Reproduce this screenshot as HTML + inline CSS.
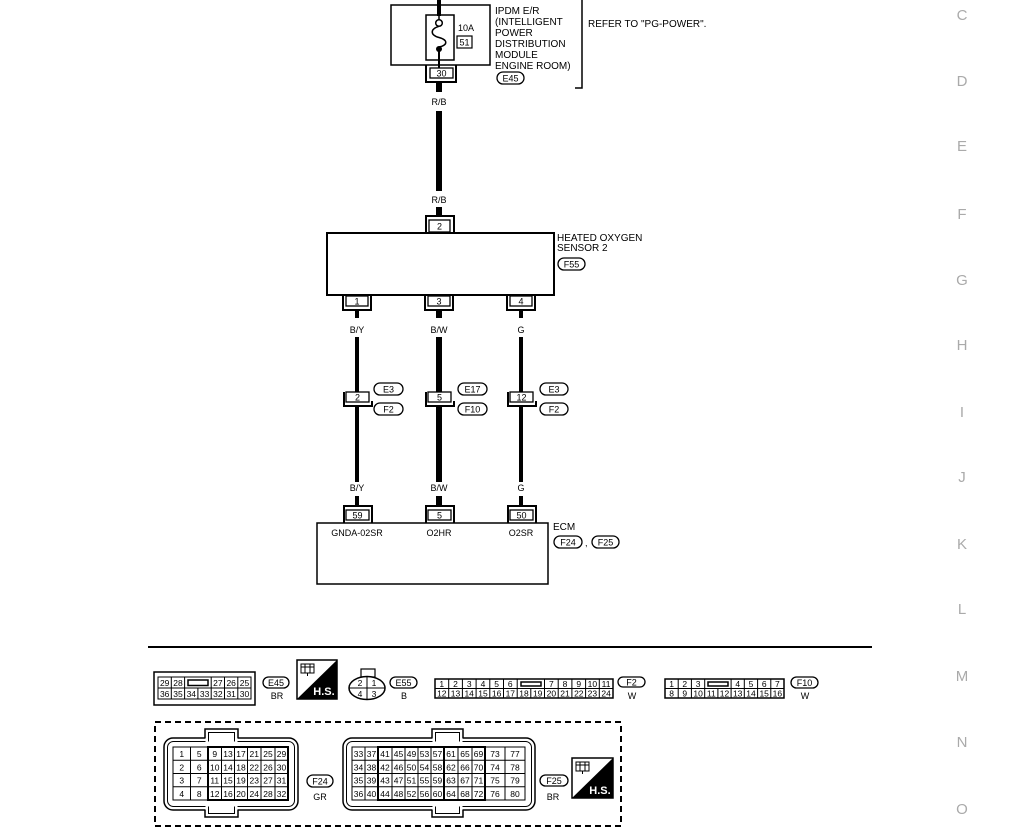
<!DOCTYPE html>
<html><head><meta charset="utf-8"><style>
html,body{margin:0;padding:0;background:#fff;}
svg{display:block;}
text{font-family:"Liberation Sans",sans-serif;}
</style></head><body>
<svg width="1020" height="840" viewBox="0 0 1020 840" xmlns="http://www.w3.org/2000/svg">
<rect width="1020" height="840" fill="#fff"/>
<!-- Right side letters -->
<g fill="#aaa" font-size="15" text-anchor="middle">
<text x="962" y="20">C</text><text x="962" y="86">D</text><text x="962" y="151">E</text>
<text x="962" y="219">F</text><text x="962" y="285">G</text><text x="962" y="350">H</text>
<text x="962" y="417">I</text><text x="962" y="482">J</text><text x="962" y="549">K</text>
<text x="962" y="614">L</text><text x="962" y="681">M</text><text x="962" y="747">N</text>
<text x="962" y="814">O</text>
</g>

<!-- IPDM -->
<g fill="none" stroke="#000">
<rect x="391" y="5" width="99" height="60" stroke-width="1.5"/>
<rect x="426" y="15" width="28" height="45" stroke-width="1.5"/>
</g>
<rect x="437" y="0" width="4" height="16" fill="#000"/>
<line x1="439" y1="15" x2="439" y2="20" stroke="#000" stroke-width="1.5"/>
<circle cx="439" cy="23" r="3.3" fill="#fff" stroke="#000" stroke-width="1.5"/>
<path d="M439,26.3 C430,29 430,35 439,37.5 C448,40 448,45 439,47" fill="none" stroke="#000" stroke-width="1.5"/>
<circle cx="439" cy="49" r="3" fill="#000"/>
<line x1="439" y1="49" x2="439" y2="68" stroke="#000" stroke-width="2"/>
<text x="458" y="31" font-size="9">10A</text>
<rect x="457" y="36" width="15" height="12" fill="none" stroke="#000" stroke-width="1.2"/>
<text x="464.5" y="45.5" font-size="9" text-anchor="middle">51</text>
<rect x="430" y="68" width="23" height="10" fill="#fff" stroke="#000" stroke-width="1.3"/>
<text x="441.5" y="76.5" font-size="9" text-anchor="middle">30</text>
<path d="M426,65 V82 H456 V65" fill="none" stroke="#000" stroke-width="2"/>
<rect x="436" y="82" width="6" height="10" fill="#000"/>
<g font-size="10">
<text x="495" y="14">IPDM E/R</text>
<text x="495" y="25">(INTELLIGENT</text>
<text x="495" y="36">POWER</text>
<text x="495" y="47">DISTRIBUTION</text>
<text x="495" y="58">MODULE</text>
<text x="495" y="69">ENGINE ROOM)</text>
<text x="588" y="27">REFER TO "PG-POWER".</text>
</g>
<rect x="497" y="72" width="27" height="12" rx="6" fill="none" stroke="#000" stroke-width="1.3"/>
<text x="510.5" y="81.5" font-size="9" text-anchor="middle">E45</text>
<path d="M582,0 V88 H575" fill="none" stroke="#000" stroke-width="1.5"/>

<!-- R/B wire -->
<text x="439" y="105" font-size="9" text-anchor="middle">R/B</text>
<rect x="436" y="111" width="6" height="80" fill="#000"/>
<text x="439" y="203" font-size="9" text-anchor="middle">R/B</text>
<rect x="436" y="207" width="6" height="9" fill="#000"/>
<path d="M426,233 V216 H454 V233" fill="none" stroke="#000" stroke-width="2"/>
<rect x="429" y="220" width="21" height="12" fill="#fff" stroke="#000" stroke-width="1.3"/>
<text x="439.5" y="229.5" font-size="9" text-anchor="middle">2</text>

<!-- Sensor box -->
<rect x="327" y="233" width="227" height="62" fill="none" stroke="#000" stroke-width="2"/>
<text x="557" y="241" font-size="10">HEATED OXYGEN</text>
<text x="557" y="251" font-size="10">SENSOR 2</text>
<rect x="558" y="258" width="27" height="12" rx="6" fill="none" stroke="#000" stroke-width="1.3"/>
<text x="571.5" y="267.5" font-size="9" text-anchor="middle">F55</text>

<!-- Sensor bottom connectors -->
<g fill="none" stroke="#000" stroke-width="2">
<path d="M343,295 V310 H371 V295"/>
<path d="M425,295 V310 H453 V295"/>
<path d="M507,295 V310 H535 V295"/>
</g>
<g fill="#fff" stroke="#000" stroke-width="1.3">
<rect x="346" y="296" width="22" height="10"/>
<rect x="428" y="296" width="22" height="10"/>
<rect x="510" y="296" width="22" height="10"/>
</g>
<g font-size="9" text-anchor="middle">
<text x="357" y="304.5">1</text><text x="439" y="304.5">3</text><text x="521" y="304.5">4</text>
</g>
<rect x="355" y="310" width="4" height="8" fill="#000"/>
<rect x="436" y="310" width="6" height="8" fill="#000"/>
<rect x="519" y="310" width="4" height="8" fill="#000"/>
<g font-size="9" text-anchor="middle">
<text x="357" y="333">B/Y</text><text x="439" y="333">B/W</text><text x="521" y="333">G</text>
</g>

<!-- wires middle -->
<rect x="355" y="337" width="4" height="55" fill="#000"/>
<rect x="436" y="337" width="6" height="55" fill="#000"/>
<rect x="519" y="337" width="4" height="55" fill="#000"/>
<rect x="355" y="406" width="4" height="76" fill="#000"/>
<rect x="436" y="406" width="6" height="76" fill="#000"/>
<rect x="519" y="406" width="4" height="76" fill="#000"/>

<!-- inline connectors -->
<g fill="none" stroke="#000" stroke-width="2">
<path d="M344,392 V406 H372 V401"/>
<path d="M426,392 V406 H454 V401"/>
<path d="M508,392 V406 H536 V401"/>
</g>
<g fill="#fff" stroke="#000" stroke-width="1.3">
<rect x="346" y="392" width="23" height="10"/>
<rect x="428" y="392" width="23" height="10"/>
<rect x="510" y="392" width="23" height="10"/>
</g>
<g font-size="9" text-anchor="middle">
<text x="357.5" y="400.5">2</text><text x="439.5" y="400.5">5</text><text x="521.5" y="400.5">12</text>
</g>
<g fill="none" stroke="#000" stroke-width="1.3">
<rect x="374" y="383" width="29" height="12" rx="6"/>
<rect x="374" y="403" width="29" height="12" rx="6"/>
<rect x="458" y="383" width="29" height="12" rx="6"/>
<rect x="458" y="403" width="29" height="12" rx="6"/>
<rect x="540" y="383" width="28" height="12" rx="6"/>
<rect x="540" y="403" width="28" height="12" rx="6"/>
</g>
<g font-size="9" text-anchor="middle">
<text x="388.5" y="392.5">E3</text><text x="388.5" y="412.5">F2</text>
<text x="472.5" y="392.5">E17</text><text x="472.5" y="412.5">F10</text>
<text x="554" y="392.5">E3</text><text x="554" y="412.5">F2</text>
</g>

<!-- lower labels -->
<g font-size="9" text-anchor="middle">
<text x="357" y="491">B/Y</text><text x="439" y="491">B/W</text><text x="521" y="491">G</text>
</g>
<rect x="355" y="496" width="4" height="10" fill="#000"/>
<rect x="436" y="496" width="6" height="10" fill="#000"/>
<rect x="519" y="496" width="4" height="10" fill="#000"/>
<g fill="none" stroke="#000" stroke-width="2">
<path d="M344,523 V506 H372 V523"/>
<path d="M426,523 V506 H454 V523"/>
<path d="M508,523 V506 H536 V523"/>
</g>
<g fill="#fff" stroke="#000" stroke-width="1.3">
<rect x="346" y="510" width="23" height="10"/>
<rect x="428" y="510" width="23" height="10"/>
<rect x="510" y="510" width="23" height="10"/>
</g>
<g font-size="9" text-anchor="middle">
<text x="357.5" y="518.5">59</text><text x="439.5" y="518.5">5</text><text x="521.5" y="518.5">50</text>
</g>

<!-- ECM -->
<rect x="317" y="523" width="231" height="61" fill="none" stroke="#000" stroke-width="1.5"/>
<g font-size="9" text-anchor="middle">
<text x="357" y="536">GNDA-02SR</text><text x="439" y="536">O2HR</text><text x="521" y="536">O2SR</text>
</g>
<text x="553" y="530" font-size="10">ECM</text>
<rect x="554" y="536" width="28" height="12" rx="6" fill="none" stroke="#000" stroke-width="1.3"/>
<text x="568" y="545.5" font-size="9" text-anchor="middle">F24</text>
<text x="585" y="546" font-size="9">,</text>
<rect x="592" y="536" width="27" height="12" rx="6" fill="none" stroke="#000" stroke-width="1.3"/>
<text x="605.5" y="545.5" font-size="9" text-anchor="middle">F25</text>

<!-- divider -->
<line x1="148" y1="647" x2="872" y2="647" stroke="#000" stroke-width="2"/>

<!-- E45 connector -->
<rect x="154" y="672" width="101" height="33" fill="none" stroke="#000" stroke-width="1.5"/>
<g fill="none" stroke="#000" stroke-width="1">
<rect x="158" y="677" width="93" height="22"/>
<line x1="158" y1="688" x2="251" y2="688"/>
<line x1="171.3" y1="677" x2="171.3" y2="699"/>
<line x1="184.6" y1="677" x2="184.6" y2="699"/>
<line x1="197.9" y1="688" x2="197.9" y2="699"/>
<line x1="211.2" y1="677" x2="211.2" y2="699"/>
<line x1="224.5" y1="677" x2="224.5" y2="699"/>
<line x1="237.8" y1="677" x2="237.8" y2="699"/>
<rect x="188" y="680" width="20" height="5.5" stroke-width="1.5"/>
</g>
<g font-size="8.5" text-anchor="middle">
<text x="164.7" y="686">29</text><text x="178" y="686">28</text><text x="217.9" y="686">27</text><text x="231.2" y="686">26</text><text x="244.5" y="686">25</text>
<text x="164.7" y="697">36</text><text x="178" y="697">35</text><text x="191.3" y="697">34</text><text x="204.6" y="697">33</text><text x="217.9" y="697">32</text><text x="231.2" y="697">31</text><text x="244.5" y="697">30</text>
</g>
<rect x="263" y="677" width="26" height="11" rx="5.5" fill="none" stroke="#000" stroke-width="1.3"/>
<text x="276" y="686" font-size="9" text-anchor="middle">E45</text>
<text x="277" y="699" font-size="9" text-anchor="middle">BR</text>

<!-- H.S. icon 1 -->
<g transform="translate(297,660)">
<rect x="0" y="0" width="40" height="39" fill="#fff" stroke="#000" stroke-width="1.5"/>
<polygon points="0,39 40,0 40,39" fill="#000"/>
<g fill="none" stroke="#000" stroke-width="1">
<rect x="4" y="4" width="13" height="9"/>
<line x1="4" y1="7" x2="17" y2="7"/>
<line x1="8" y1="4" x2="8" y2="13"/>
<line x1="13" y1="4" x2="13" y2="13"/>
<line x1="10.5" y1="13" x2="10.5" y2="16"/>
</g>
<text x="27" y="35" fill="#fff" font-size="11" font-weight="bold" text-anchor="middle">H.S.</text>
</g>

<!-- E55 round connector -->
<rect x="361" y="669" width="14" height="8" fill="#fff" stroke="#000" stroke-width="1.2"/>
<ellipse cx="367" cy="688" rx="18" ry="11.5" fill="#fff" stroke="#000" stroke-width="1.5"/>
<line x1="367" y1="677" x2="367" y2="699.5" stroke="#000" stroke-width="1"/>
<line x1="349" y1="688" x2="385" y2="688" stroke="#000" stroke-width="1"/>
<g font-size="8.5" text-anchor="middle">
<text x="360" y="686">2</text><text x="374" y="686">1</text>
<text x="360" y="697">4</text><text x="374" y="697">3</text>
</g>
<rect x="390" y="677" width="27" height="11" rx="5.5" fill="none" stroke="#000" stroke-width="1.3"/>
<text x="403.5" y="686" font-size="9" text-anchor="middle">E55</text>
<text x="404" y="699" font-size="9" text-anchor="middle">B</text>

<!-- F2 connector -->
<g fill="none" stroke="#000" stroke-width="1">
<rect x="435" y="679" width="178" height="19" stroke-width="1.5"/>
<line x1="435" y1="688.5" x2="613" y2="688.5"/>
<line x1="448.7" y1="679" x2="448.7" y2="698"/>
<line x1="462.4" y1="679" x2="462.4" y2="698"/>
<line x1="476.1" y1="679" x2="476.1" y2="698"/>
<line x1="489.8" y1="679" x2="489.8" y2="698"/>
<line x1="503.5" y1="679" x2="503.5" y2="698"/>
<line x1="517.2" y1="679" x2="517.2" y2="698"/>
<line x1="530.8" y1="688.5" x2="530.8" y2="698"/>
<line x1="544.5" y1="679" x2="544.5" y2="698"/>
<line x1="558.2" y1="679" x2="558.2" y2="698"/>
<line x1="571.9" y1="679" x2="571.9" y2="698"/>
<line x1="585.6" y1="679" x2="585.6" y2="698"/>
<line x1="599.3" y1="679" x2="599.3" y2="698"/>
<rect x="521" y="682" width="20" height="4" stroke-width="1.5"/>
</g>
<g font-size="8.5" text-anchor="middle">
<text x="441.8" y="687">1</text><text x="455.5" y="687">2</text><text x="469.2" y="687">3</text><text x="483" y="687">4</text><text x="496.6" y="687">5</text><text x="510.3" y="687">6</text>
<text x="551.4" y="687">7</text><text x="565" y="687">8</text><text x="578.8" y="687">9</text><text x="592.4" y="687">10</text><text x="606.1" y="687">11</text>
<text x="441.8" y="696.5">12</text><text x="455.5" y="696.5">13</text><text x="469.2" y="696.5">14</text><text x="483" y="696.5">15</text><text x="496.6" y="696.5">16</text><text x="510.3" y="696.5">17</text><text x="524" y="696.5">18</text><text x="537.7" y="696.5">19</text><text x="551.4" y="696.5">20</text><text x="565" y="696.5">21</text><text x="578.8" y="696.5">22</text><text x="592.4" y="696.5">23</text><text x="606.1" y="696.5">24</text>
</g>
<rect x="618" y="677" width="27" height="10" rx="5" fill="none" stroke="#000" stroke-width="1.3"/>
<text x="631.5" y="685.5" font-size="9" text-anchor="middle">F2</text>
<text x="632" y="699" font-size="9" text-anchor="middle">W</text>

<!-- F10 connector -->
<g fill="none" stroke="#000" stroke-width="1">
<rect x="665" y="679" width="119" height="19" stroke-width="1.5"/>
<line x1="665" y1="688.5" x2="784" y2="688.5"/>
<line x1="678.2" y1="679" x2="678.2" y2="698"/>
<line x1="691.4" y1="679" x2="691.4" y2="698"/>
<line x1="704.7" y1="679" x2="704.7" y2="698"/>
<line x1="717.9" y1="688.5" x2="717.9" y2="698"/>
<line x1="731.1" y1="679" x2="731.1" y2="698"/>
<line x1="744.3" y1="679" x2="744.3" y2="698"/>
<line x1="757.6" y1="679" x2="757.6" y2="698"/>
<line x1="770.8" y1="679" x2="770.8" y2="698"/>
<rect x="708" y="682" width="20" height="4" stroke-width="1.5"/>
</g>
<g font-size="8.5" text-anchor="middle">
<text x="671.6" y="687">1</text><text x="684.8" y="687">2</text><text x="698.1" y="687">3</text>
<text x="737.7" y="687">4</text><text x="751" y="687">5</text><text x="764.2" y="687">6</text><text x="777.4" y="687">7</text>
<text x="671.6" y="696.5">8</text><text x="684.8" y="696.5">9</text><text x="698.1" y="696.5">10</text><text x="711.3" y="696.5">11</text><text x="724.5" y="696.5">12</text><text x="737.7" y="696.5">13</text><text x="751" y="696.5">14</text><text x="764.2" y="696.5">15</text><text x="777.4" y="696.5">16</text>
</g>
<rect x="791" y="677" width="27" height="11" rx="5.5" fill="none" stroke="#000" stroke-width="1.3"/>
<text x="804.5" y="686" font-size="9" text-anchor="middle">F10</text>
<text x="805" y="699" font-size="9" text-anchor="middle">W</text>

<!-- Dashed box -->
<rect x="155" y="722" width="466" height="104" fill="none" stroke="#000" stroke-width="2" stroke-dasharray="6,4"/>

<!-- F24 connector -->
<g fill="none" stroke="#000">
<rect x="164" y="738" width="134" height="72" rx="9" stroke-width="1.5"/>
<rect x="167.5" y="741.5" width="127" height="65" rx="6" stroke-width="1"/>
</g>
<rect x="205.5" y="736" width="32" height="8" fill="#fff"/>
<rect x="205.5" y="804" width="32" height="8" fill="#fff"/>
<g fill="none" stroke="#000">
<path d="M205,738 V729 H238 V738" stroke-width="1.5"/>
<path d="M208.5,741.5 V732.5 H234.5 V741.5" stroke-width="1"/>
<path d="M205,810 V817 H238 V810" stroke-width="1.5"/>
<path d="M208.5,806.5 V813.5 H234.5 V806.5" stroke-width="1"/>
</g>
<g fill="#fff" stroke="#000" stroke-width="1">
<rect x="173" y="747" width="115" height="53"/>
</g>
<g fill="none" stroke="#000" stroke-width="1">
<line x1="173" y1="760.25" x2="288" y2="760.25"/>
<line x1="173" y1="773.5" x2="288" y2="773.5"/>
<line x1="173" y1="786.75" x2="288" y2="786.75"/>
<line x1="190.5" y1="747" x2="190.5" y2="800"/>
<line x1="221.5" y1="747" x2="221.5" y2="800"/>
<line x1="234.5" y1="747" x2="234.5" y2="800"/>
<line x1="247.5" y1="747" x2="247.5" y2="800"/>
<line x1="261" y1="747" x2="261" y2="800"/>
<line x1="275" y1="747" x2="275" y2="800"/>
<rect x="208" y="747" width="80" height="53" stroke-width="2"/>
</g>
<g font-size="8.5" text-anchor="middle">
<text x="181.75" y="757">1</text><text x="199.25" y="757">5</text><text x="214.75" y="757">9</text><text x="228" y="757">13</text><text x="241" y="757">17</text><text x="254.25" y="757">21</text><text x="268" y="757">25</text><text x="281.5" y="757">29</text>
<text x="181.75" y="770.3">2</text><text x="199.25" y="770.3">6</text><text x="214.75" y="770.3">10</text><text x="228" y="770.3">14</text><text x="241" y="770.3">18</text><text x="254.25" y="770.3">22</text><text x="268" y="770.3">26</text><text x="281.5" y="770.3">30</text>
<text x="181.75" y="783.5">3</text><text x="199.25" y="783.5">7</text><text x="214.75" y="783.5">11</text><text x="228" y="783.5">15</text><text x="241" y="783.5">19</text><text x="254.25" y="783.5">23</text><text x="268" y="783.5">27</text><text x="281.5" y="783.5">31</text>
<text x="181.75" y="796.8">4</text><text x="199.25" y="796.8">8</text><text x="214.75" y="796.8">12</text><text x="228" y="796.8">16</text><text x="241" y="796.8">20</text><text x="254.25" y="796.8">24</text><text x="268" y="796.8">28</text><text x="281.5" y="796.8">32</text>
</g>
<rect x="307" y="775" width="26" height="12" rx="6" fill="none" stroke="#000" stroke-width="1.3"/>
<text x="320" y="784.5" font-size="9" text-anchor="middle">F24</text>
<text x="320" y="800" font-size="9" text-anchor="middle">GR</text>

<!-- F25 connector -->
<g fill="none" stroke="#000">
<rect x="343" y="738" width="192" height="72" rx="9" stroke-width="1.5"/>
<rect x="346.5" y="741.5" width="185" height="65" rx="6" stroke-width="1"/>
</g>
<rect x="432.5" y="736" width="30" height="8" fill="#fff"/>
<rect x="432.5" y="804" width="30" height="8" fill="#fff"/>
<g fill="none" stroke="#000">
<path d="M432,738 V729 H463 V738" stroke-width="1.5"/>
<path d="M435.5,741.5 V732.5 H459.5 V741.5" stroke-width="1"/>
<path d="M432,810 V817 H463 V810" stroke-width="1.5"/>
<path d="M435.5,806.5 V813.5 H459.5 V806.5" stroke-width="1"/>
</g>
<rect x="352" y="747" width="173" height="53" fill="#fff" stroke="#000" stroke-width="1"/>
<g fill="none" stroke="#000" stroke-width="1">
<line x1="352" y1="760.25" x2="525" y2="760.25"/>
<line x1="352" y1="773.5" x2="525" y2="773.5"/>
<line x1="352" y1="786.75" x2="525" y2="786.75"/>
<line x1="365" y1="747" x2="365" y2="800"/>
<line x1="392" y1="747" x2="392" y2="800"/>
<line x1="405" y1="747" x2="405" y2="800"/>
<line x1="418" y1="747" x2="418" y2="800"/>
<line x1="431" y1="747" x2="431" y2="800"/>
<line x1="458" y1="747" x2="458" y2="800"/>
<line x1="472" y1="747" x2="472" y2="800"/>
<line x1="505" y1="747" x2="505" y2="800"/>
<rect x="378" y="747" width="107" height="53" stroke-width="2"/>
<line x1="444" y1="747" x2="444" y2="800" stroke-width="2"/>
</g>
<g font-size="8.5" text-anchor="middle">
<text x="358.5" y="757">33</text><text x="371.5" y="757">37</text><text x="385" y="757">41</text><text x="398.5" y="757">45</text><text x="411.5" y="757">49</text><text x="424.5" y="757">53</text><text x="437.5" y="757">57</text><text x="451" y="757">61</text><text x="465" y="757">65</text><text x="478.5" y="757">69</text><text x="495" y="757">73</text><text x="515" y="757">77</text>
<text x="358.5" y="770.3">34</text><text x="371.5" y="770.3">38</text><text x="385" y="770.3">42</text><text x="398.5" y="770.3">46</text><text x="411.5" y="770.3">50</text><text x="424.5" y="770.3">54</text><text x="437.5" y="770.3">58</text><text x="451" y="770.3">62</text><text x="465" y="770.3">66</text><text x="478.5" y="770.3">70</text><text x="495" y="770.3">74</text><text x="515" y="770.3">78</text>
<text x="358.5" y="783.5">35</text><text x="371.5" y="783.5">39</text><text x="385" y="783.5">43</text><text x="398.5" y="783.5">47</text><text x="411.5" y="783.5">51</text><text x="424.5" y="783.5">55</text><text x="437.5" y="783.5">59</text><text x="451" y="783.5">63</text><text x="465" y="783.5">67</text><text x="478.5" y="783.5">71</text><text x="495" y="783.5">75</text><text x="515" y="783.5">79</text>
<text x="358.5" y="796.8">36</text><text x="371.5" y="796.8">40</text><text x="385" y="796.8">44</text><text x="398.5" y="796.8">48</text><text x="411.5" y="796.8">52</text><text x="424.5" y="796.8">56</text><text x="437.5" y="796.8">60</text><text x="451" y="796.8">64</text><text x="465" y="796.8">68</text><text x="478.5" y="796.8">72</text><text x="495" y="796.8">76</text><text x="515" y="796.8">80</text>
</g>
<rect x="540" y="775" width="28" height="11" rx="5.5" fill="none" stroke="#000" stroke-width="1.3"/>
<text x="554" y="784" font-size="9" text-anchor="middle">F25</text>
<text x="553" y="800" font-size="9" text-anchor="middle">BR</text>

<!-- H.S. icon 2 -->
<g transform="translate(572,758)">
<rect x="0" y="0" width="41" height="40" fill="#fff" stroke="#000" stroke-width="1.5"/>
<polygon points="0,40 41,0 41,40" fill="#000"/>
<g fill="none" stroke="#000" stroke-width="1">
<rect x="4" y="4" width="13" height="9"/>
<line x1="4" y1="7" x2="17" y2="7"/>
<line x1="8" y1="4" x2="8" y2="13"/>
<line x1="13" y1="4" x2="13" y2="13"/>
<line x1="10.5" y1="13" x2="10.5" y2="16"/>
</g>
<text x="28" y="36" fill="#fff" font-size="11" font-weight="bold" text-anchor="middle">H.S.</text>
</g>
</svg>
</body></html>
